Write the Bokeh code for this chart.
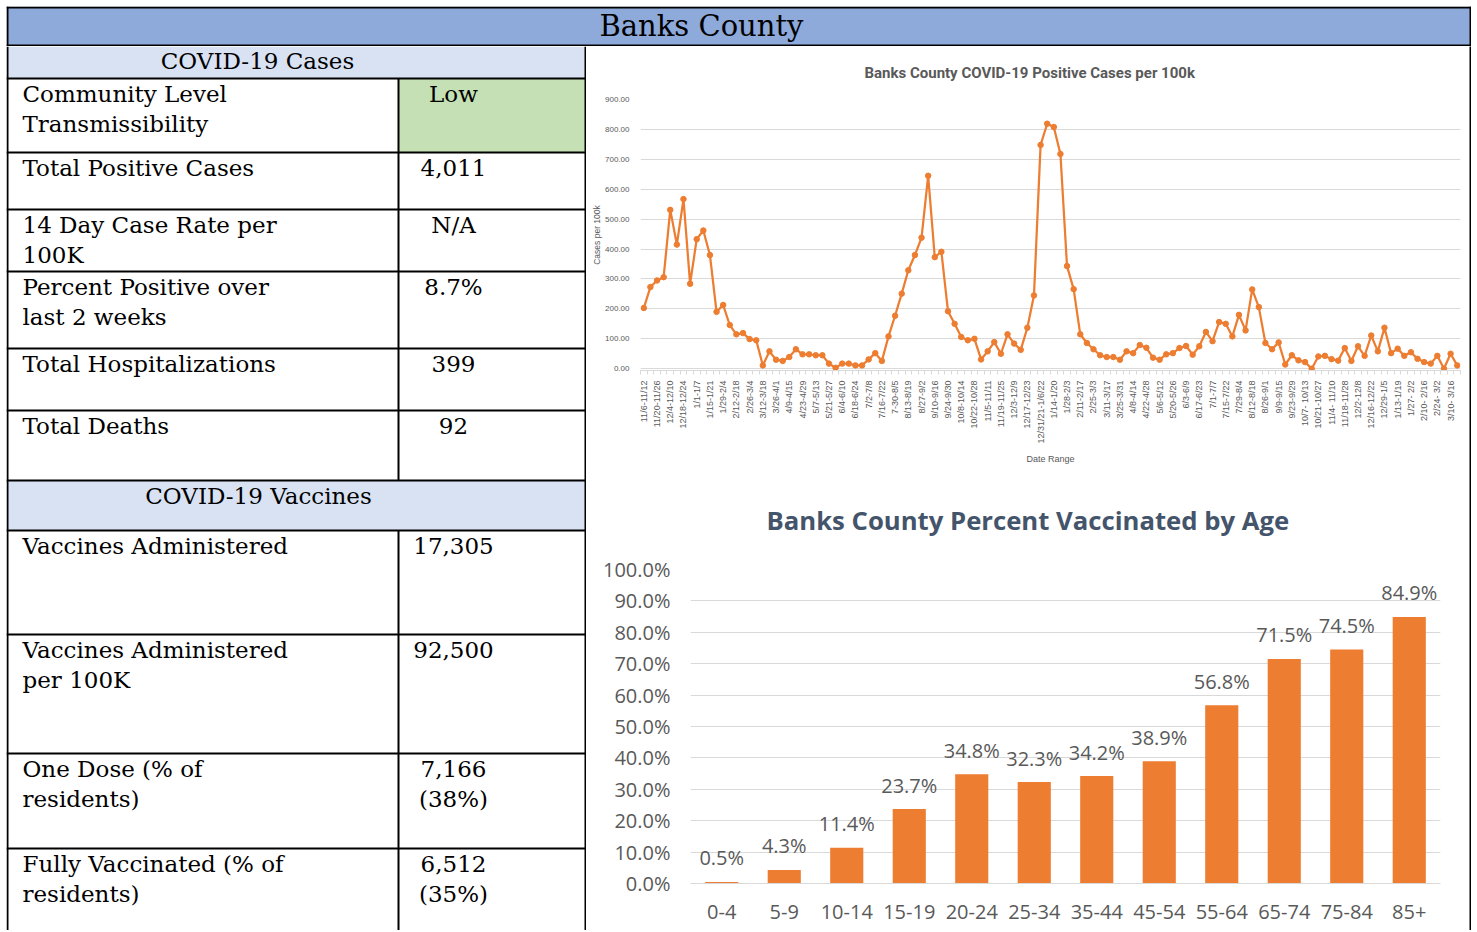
import math
from bokeh.plotting import figure
from bokeh.layouts import column, row
from bokeh.models import (Range1d, FixedTicker, PrintfTickFormatter, FactorRange,
                          ColumnDataSource, LabelSet)
from bokeh.core.properties import value
from bokeh.embed import file_html
from bokeh.resources import INLINE

# ---------------- data ----------------
county = "Banks County"
cases_section = "COVID-19 Cases"
vacc_section = "COVID-19 Vaccines"

case_labels = [["Community Level", "Transmissibility"], ["Total Positive Cases"],
               ["14 Day Case Rate per", "100K"], ["Percent Positive over", "last 2 weeks"],
               ["Total Hospitalizations"], ["Total Deaths"]]
case_values = [["Low"], ["4,011"], ["N/A"], ["8.7%"], ["399"], ["92"]]

vacc_labels = [["Vaccines Administered"], ["Vaccines Administered", "per 100K"],
               ["One Dose (% of", "residents)"], ["Fully Vaccinated (% of", "residents)"]]
vacc_values = [["17,305"], ["92,500"], ["7,166", "(38%)"], ["6,512", "(35%)"]]

line_title = "Banks County COVID-19 Positive Cases per 100k"
week_labels = ["11/6-11/12", "11/20-11/26", "12/4-12/10", "12/18-12/24", "1/1-1/7",
               "1/15-1/21", "1/29-2/4", "2/12-2/18", "2/26-3/4", "3/12-3/18", "3/26-4/1",
               "4/9-4/15", "4/23-4/29", "5/7-5/13", "5/21-5/27", "6/4-6/10", "6/18-6/24",
               "7/2-7/8", "7/16-7/22", "7-30-8/5", "8/13-8/19", "8/27-9/2", "9/10-9/16",
               "9/24-9/30", "10/8-10/14", "10/22-10/28", "11/5-11/11", "11/19-11/25",
               "12/3-12/9", "12/17-12/23", "12/31/21-1/6/22", "1/14-1/20", "1/28-2/3",
               "2/11-2/17", "2/25-3/3", "3/11-3/17", "3/25-3/31", "4/8-4/14", "4/22-4/28",
               "5/6-5/12", "5/20-5/26", "6/3-6/9", "6/17-6/23", "7/1-7/7", "7/15-7/22",
               "7/29-8/4", "8/12-8/18", "8/26-9/1", "9/9-9/15", "9/23-9/29", "10/7- 10/13",
               "10/21-10/27", "11/4- 11/10", "11/18-11/28", "12/2-12/8", "12/16-12/22",
               "12/29-1/5", "1/13-1/19", "1/27- 2/2", "2/10- 2/16", "2/24- 3/2", "3/10- 3/16"]
cases_per_100k = [203, 273, 295, 306, 531, 415, 567, 284, 433, 462,
                  380, 190, 213, 146, 115, 119, 99, 95, 11, 58,
                  30, 26, 39, 65, 48, 48, 45, 45, 17, 3,
                  17, 17, 11, 11, 31, 52, 26, 108, 177, 251,
                  329, 380, 438, 645, 373, 391, 192, 150, 106, 95,
                  100, 31, 58, 89, 50, 115, 84, 63, 137, 245,
                  748, 819, 808, 718, 343, 266, 115, 86, 65, 45,
                  39, 39, 30, 58, 52, 79, 70, 37, 30, 48,
                  52, 69, 76, 47, 75, 123, 92, 156, 150, 108,
                  180, 128, 265, 206, 86, 65, 88, 14, 45, 28,
                  22, 0, 41, 43, 32, 27, 69, 26, 75, 43,
                  111, 58, 137, 52, 67, 43, 55, 33, 22, 17,
                  43, 0, 50, 11]
y_ticks_cases = [0, 100, 200, 300, 400, 500, 600, 700, 800, 900]

bar_title = "Banks County  Percent Vaccinated by Age"
age_groups = ["0-4", "5-9", "10-14", "15-19", "20-24", "25-34", "35-44", "45-54",
              "55-64", "65-74", "75-84", "85+"]
pct_vaccinated = [0.5, 4.3, 11.4, 23.7, 34.8, 32.3, 34.2, 38.9, 56.8, 71.5, 74.5, 84.9]
y_ticks_pct = [0, 10, 20, 30, 40, 50, 60, 70, 80, 90, 100]

# ---------------- styles ----------------
ORANGE = "#ed7d31"
GRID = "#d9d9d9"
TXT = "#595959"
SERIF = "DejaVu Serif"
BLUE_HDR = "#8eaadb"
BLUE_SEC = "#d9e2f3"
GREEN = "#c5e0b4"
BW = 2

PAD = 6
HEAD_H = 40
LEFT_W = 580
RIGHT_W = 883
FULL_W = LEFT_W + RIGHT_W + 2
BODY_H = 884
TOP_TITLE_H = 40
TOP_H = 434 - TOP_TITLE_H
BOT_TITLE_H = 60
BOT_H = BODY_H - 434 - 2 - BOT_TITLE_H


def blank(w, h, fill="white"):
    f = figure(width=w, height=h, x_range=Range1d(0, w), y_range=Range1d(h, 0),
               x_axis_type=None, y_axis_type=None, toolbar_location=None,
               output_backend="svg", min_border=0, outline_line_color=None,
               background_fill_color=fill, border_fill_color=fill)
    return f


# ---------------- header ----------------
head = blank(FULL_W, HEAD_H)
head.quad(left=[0], right=[FULL_W], top=[0], bottom=[HEAD_H], fill_color=BLUE_HDR, line_color=None)
head.segment(x0=[0, 0, 1, FULL_W - 1], y0=[1, HEAD_H - 1, 0, 0],
             x1=[FULL_W, FULL_W, 1, FULL_W - 1], y1=[1, HEAD_H - 1, HEAD_H, HEAD_H],
             line_color="black", line_width=BW)
head.text(x=[695], y=[19.5], text=[county], text_font=value(SERIF), text_font_size="29px",
          text_align="center", text_baseline="middle", text_color="black")

# ---------------- left table ----------------
left = blank(LEFT_W, BODY_H)
SPLIT = 392
case_bounds = [32, 106, 163, 225, 302, 364, 434]
vacc_bounds = [484, 588, 707, 802, BODY_H]

left.quad(left=[0, 0], right=[LEFT_W, LEFT_W], top=[0, case_bounds[-1]],
          bottom=[case_bounds[0], vacc_bounds[0]], fill_color=BLUE_SEC, line_color=None)
left.quad(left=[SPLIT], right=[LEFT_W], top=[case_bounds[0]], bottom=[case_bounds[1]],
          fill_color=GREEN, line_color=None)

hy = case_bounds + vacc_bounds[:-1]
left.segment(x0=[0] * len(hy), y0=hy, x1=[LEFT_W] * len(hy), y1=hy,
             line_color="black", line_width=BW)
left.segment(x0=[1, LEFT_W - 1, SPLIT, SPLIT], y0=[0, 0, case_bounds[0], vacc_bounds[0]],
             x1=[1, LEFT_W - 1, SPLIT, SPLIT], y1=[BODY_H, BODY_H, case_bounds[-1], BODY_H],
             line_color="black", line_width=BW)

tx, ty, tt, ta = [], [], [], []


def add_rows(bounds, labels, values):
    for i, (lab, val) in enumerate(zip(labels, values)):
        top_y = bounds[i]
        for j, s in enumerate(lab):
            tx.append(16); ty.append(top_y + 15.5 + 29.5 * j); tt.append(s); ta.append("left")
        for j, s in enumerate(val):
            tx.append(447); ty.append(top_y + 15.5 + 29.5 * j); tt.append(s); ta.append("center")


add_rows(case_bounds, case_labels, case_values)
add_rows(vacc_bounds, vacc_labels, vacc_values)
tx += [251, 252]; ty += [14, 449]; tt += [cases_section, vacc_section]; ta += ["center", "center"]
left.text(x=tx, y=ty, text=tt, text_align=ta, text_font=value(SERIF), text_font_size="23px",
          text_baseline="middle", text_color="black")

# ---------------- line chart ----------------
top_title = blank(RIGHT_W, TOP_TITLE_H)
top_title.text(x=[278], y=[26], text=[line_title], text_font=value("Roboto"),
               text_font_size="15px", text_font_style="bold", text_color=TXT,
               text_align="left", text_baseline="middle")

xs = list(range(len(cases_per_100k)))
top = figure(width=RIGHT_W, height=TOP_H, x_range=Range1d(-0.5, len(xs) - 0.5),
             y_range=Range1d(-6, 900), toolbar_location=None, output_backend="svg",
             min_border_left=54, min_border_right=9, min_border_top=99 - 46 - TOP_TITLE_H,
             min_border_bottom=110, outline_line_color=None)

top.line(xs, cases_per_100k, line_color=ORANGE, line_width=2.25)
top.scatter(xs, cases_per_100k, size=5.5, fill_color=ORANGE, line_color=ORANGE)

top.xgrid.grid_line_color = None
top.ygrid.grid_line_color = GRID
top.yaxis.ticker = FixedTicker(ticks=y_ticks_cases)
top.yaxis.formatter = PrintfTickFormatter(format="%.2f")
top.yaxis.axis_line_color = None
top.yaxis.major_tick_line_color = None
top.yaxis.minor_tick_line_color = None
top.yaxis.major_label_text_font = "Liberation Sans"
top.yaxis.major_label_text_font_size = "8px"
top.yaxis.major_label_text_color = TXT
top.yaxis.major_label_standoff = 5
top.yaxis.axis_label = "Cases per 100k"
top.yaxis.axis_label_text_font = "Liberation Sans"
top.yaxis.axis_label_text_font_size = "8.5px"
top.yaxis.axis_label_text_font_style = "normal"
top.yaxis.axis_label_text_color = TXT
top.yaxis.axis_label_standoff = 0

tick_pos = [2 * i for i in range(len(week_labels))]
top.xaxis.ticker = FixedTicker(ticks=tick_pos, minor_ticks=[i - 0.5 for i in range(len(xs) + 1)])
top.xaxis.major_label_overrides = {p: lab for p, lab in zip(tick_pos, week_labels)}
top.xaxis.major_label_orientation = math.pi / 2
top.xaxis.major_label_text_font = "Liberation Sans"
top.xaxis.major_label_text_font_size = "9px"
top.xaxis.major_label_text_color = TXT
top.xaxis.major_label_standoff = 4
top.xaxis.axis_line_color = GRID
top.xaxis.major_tick_line_color = None
top.xaxis.minor_tick_line_color = GRID
top.xaxis.minor_tick_in = 0
top.xaxis.minor_tick_out = 4
top.xaxis.axis_label = "Date Range"
top.xaxis.axis_label_text_font = "Liberation Sans"
top.xaxis.axis_label_text_font_size = "9px"
top.xaxis.axis_label_text_font_style = "normal"
top.xaxis.axis_label_text_color = TXT
top.xaxis.axis_label_standoff = 7

# ---------------- bar chart ----------------
bot_title = blank(RIGHT_W, BOT_TITLE_H)
bot_title.text(x=[180], y=[38], text=[bar_title], text_font=value("Open Sans"),
               text_font_size="25.7px", text_font_style="bold", text_color="#44546a",
               text_align="left", text_baseline="middle")

bot = figure(width=RIGHT_W, height=BOT_H, x_range=FactorRange(factors=age_groups),
             y_range=Range1d(0, 100), toolbar_location=None, output_backend="svg",
             min_border_left=104, min_border_right=29,
             min_border_top=569 - 482 - BOT_TITLE_H,
             min_border_bottom=BOT_H - (569 - 482 - BOT_TITLE_H) - 314,
             outline_line_color=None)

src = ColumnDataSource(dict(age=age_groups, pct=pct_vaccinated,
                            lbl=[f"{v:.1f}%" for v in pct_vaccinated]))
bot.vbar(x="age", top="pct", width=0.53, source=src, fill_color=ORANGE, line_color=None)
bot.add_layout(LabelSet(x="age", y="pct", text="lbl", source=src, y_offset=24,
                        text_align="center", text_baseline="middle",
                        text_font=value("Open Sans"), text_font_size="20px", text_color=TXT))

bot.xgrid.grid_line_color = None
bot.ygrid.grid_line_color = GRID
bot.yaxis.ticker = FixedTicker(ticks=y_ticks_pct)
bot.yaxis.formatter = PrintfTickFormatter(format="%.1f%%")
bot.yaxis.axis_line_color = None
bot.yaxis.major_tick_line_color = None
bot.yaxis.minor_tick_line_color = None
bot.yaxis.major_label_text_font = "Open Sans"
bot.yaxis.major_label_text_font_size = "20px"
bot.yaxis.major_label_text_color = TXT
bot.yaxis.major_label_standoff = 14
bot.xaxis.axis_line_color = GRID
bot.xaxis.major_tick_line_color = None
bot.xaxis.minor_tick_line_color = None
bot.xaxis.major_label_text_font = "Open Sans"
bot.xaxis.major_label_text_font_size = "20px"
bot.xaxis.major_label_text_color = TXT
bot.xaxis.major_label_standoff = 15

# ---------------- assemble ----------------
hline = blank(RIGHT_W, 2, fill="black")
vline = blank(2, BODY_H, fill="black")
right_col = column(top_title, row(top), hline, bot_title, row(bot))
table = column(head, row(left, right_col, vline))
layout = column(blank(PAD + FULL_W, PAD), row(blank(PAD, HEAD_H + BODY_H), table))

open("out.html", "w").write(file_html(layout, INLINE, title=county))
